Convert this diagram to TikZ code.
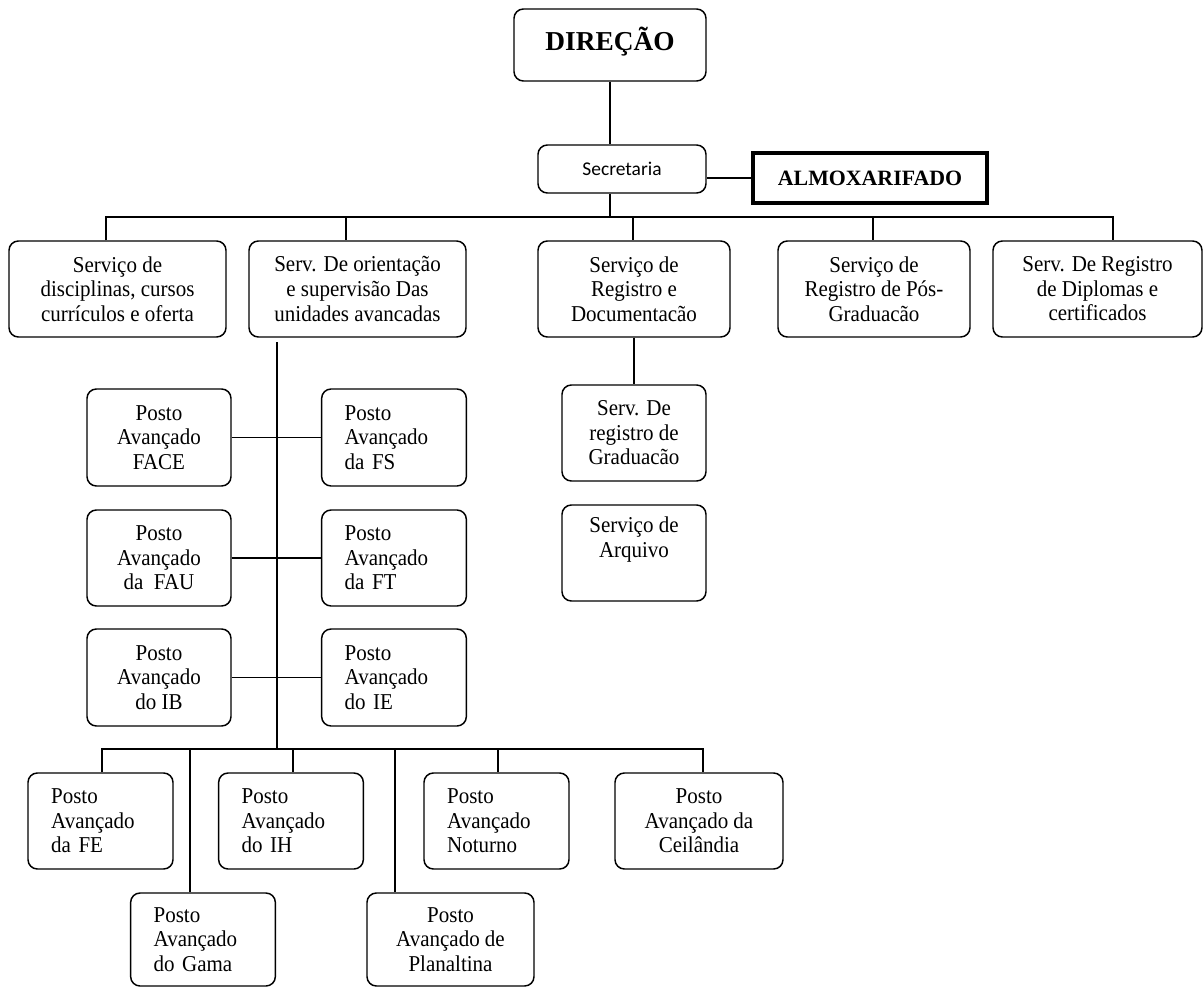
\documentclass[tikz,border=0pt]{standalone}
\usepackage{fontspec}
\setmainfont{Liberation Serif}
\newfontfamily\tallserif[FakeStretch=0.926]{Liberation Serif}
\newfontfamily\calibri{Carlito}
\begin{document}
\begin{tikzpicture}[x=0.75pt,y=-0.75pt,
  box/.style={draw, line width=1.1pt, rounded corners=7pt, inner sep=0pt, align=center,
    font=\tallserif\fontsize{17pt}{18.4pt}\selectfont},
  wh/.style 2 args={minimum width=#1*0.75pt, minimum height=#2*0.75pt},
  lbox/.style={box, align=left, inner xsep=17.25pt, inner ysep=0pt, text width=74pt},
  conn/.style={line width=1pt}]
\useasboundingbox (0,0) rectangle (1204,988);

% top
\node[box, wh={192}{72}, font=\fontsize{20.5pt}{22pt}\selectfont\bfseries] (dir) at (610,45) {\raisebox{9pt}{DIREÇÃO}};
\node[box, wh={168}{48}, font=\fontsize{14.6pt}{17pt}\calibri] (sec) at (622,169) {Secretaria};
\node[draw, line width=2.4pt, wh={234}{50}, inner sep=0pt, font=\fontsize{16.4pt}{18pt}\selectfont\bfseries] (alm) at (870,178) {ALMOXARIFADO};

% level 2
\node[box, wh={217}{96}] (b1) at (117.5,289) {Serviço de\\disciplinas, cursos\\currículos e oferta};
\node[box, wh={217}{96}] (b2) at (357.5,289) {Serv. De orientação\\e supervisão Das\\unidades avancadas};
\node[box, wh={192}{96}] (b3) at (634,289) {Serviço de\\Registro e\\Documentacão};
\node[box, wh={192}{96}] (b4) at (874,289) {Serviço de\\Registro de Pós-\\Graduacão};
\node[box, wh={209}{96}] (b5) at (1097.5,289) {Serv. De Registro\\de Diplomas e\\certificados};

% registro branch
\node[box, wh={144}{96}] (grad) at (634,433) {Serv. De\\registro de\\Graduacão};
\node[box, wh={144}{96}] (arq) at (634,553) {Serviço de\\Arquivo\\\strut};

% posts grid
\node[box, wh={144}{97}] (p1l) at (159,437.5) {Posto\\Avançado\\FACE};
\node[lbox, wh={144}{97}] (p1r) at (394,437.5) {Posto\\Avançado\\da FS};
\node[box, wh={144}{96}] (p2l) at (159,558) {Posto\\Avançado\\da\ \ FAU};
\node[lbox, wh={144}{96}] (p2r) at (394,558) {Posto\\Avançado\\da FT};
\node[box, wh={144}{97}] (p3l) at (159,677.5) {Posto\\Avançado\\do IB};
\node[lbox, wh={144}{97}] (p3r) at (394,677.5) {Posto\\Avançado\\do IE};

% bottom row
\node[lbox, wh={145}{96}] (fe) at (100.5,821) {Posto\\Avançado\\da FE};
\node[lbox, wh={144}{96}] (ih) at (291,821) {Posto\\Avançado\\do IH};
\node[lbox, wh={145}{96}] (not) at (496.5,821) {Posto\\Avançado\\Noturno};
\node[box, wh={168}{96}] (cei) at (699,821) {Posto\\Avançado da\\Ceilândia};
\node[lbox, wh={144}{93}] (gam) at (203,939.5) {Posto\\Avançado\\do Gama};
\node[box, wh={167}{93}] (pla) at (450.5,939.5) {Posto\\Avançado de\\Planaltina};

% coordinates
\coordinate (t1) at (106,217);
\coordinate (t2) at (346,217);
\coordinate (t3) at (633,217);
\coordinate (t4) at (873,217);
\coordinate (t5) at (1113,217);
\coordinate (ts) at (610,217);
\coordinate (v0) at (277,342);
\coordinate (v1) at (277,749);
\coordinate (u1) at (102,749);
\coordinate (u2) at (190,749);
\coordinate (u3) at (293,749);
\coordinate (u4) at (395,749);
\coordinate (u5) at (498,749);
\coordinate (u6) at (703,749);

% connectors
\draw[conn] (dir.south) -- (dir.south |- sec.north);
\draw[conn] (alm.west) -- (alm.west -| sec.east);
\draw[conn] (ts |- sec.south) -- (ts);
\draw[conn] (t1 |- b1.north) -- (t1) -- (t5) -- (t5 |- b5.north);
\draw[conn] (t2) -- (t2 |- b2.north);
\draw[conn] (t3) -- (t3 |- b3.north);
\draw[conn] (t4) -- (t4 |- b4.north);
\draw[conn] (b3.south) -- (grad.north);
\draw[conn] (v0) -- (v1);
\draw[conn] (p1l.east) -- (p1r.west);
\draw[conn] (p2l.east) -- (p2r.west);
\draw[conn] (p3l.east) -- (p3r.west);
\draw[conn] (u1 |- fe.north) -- (u1) -- (u6) -- (u6 |- cei.north);
\draw[conn] (u2) -- (u2 |- gam.north);
\draw[conn] (u3) -- (u3 |- ih.north);
\draw[conn] (u4) -- (u4 |- pla.north);
\draw[conn] (u5) -- (u5 |- not.north);
\end{tikzpicture}
\end{document}
